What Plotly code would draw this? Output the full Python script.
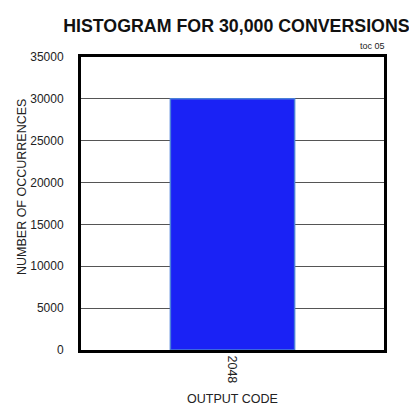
import plotly.graph_objects as go

categories = ["2048"]
counts = [30000]
y_ticks = [0, 5000, 10000, 15000, 20000, 25000, 30000, 35000]

fig = go.Figure()
fig.add_trace(go.Bar(
    x=categories, y=counts, width=0.41,
    marker=dict(color="#1a22f5", line=dict(color="#4a7fd8", width=1.5)),
))

font = "Liberation Sans, Arial, sans-serif"
fig.update_layout(
    width=409, height=407,
    margin=dict(l=81, r=25, t=57, b=57, autoexpand=False),
    paper_bgcolor="white", plot_bgcolor="white",
    showlegend=False,
    font=dict(family=font, size=12, color="#222"),
    title=dict(text="<b>HISTOGRAM FOR 30,000 CONVERSIONS</b>", x=0.578, xanchor="center",
               y=0.937, yanchor="middle", font=dict(size=17.8, color="#111", family=font)),
    annotations=[
        dict(text="toc 05", xref="paper", yref="paper", x=1.01, y=1.0,
             xanchor="right", yanchor="bottom", yshift=4, showarrow=False,
             font=dict(size=9, color="#222", family=font)),
        dict(text="NUMBER OF OCCURRENCES", xref="paper", yref="paper", x=-0.195, y=0.556,
             xanchor="center", yanchor="middle", textangle=-90, showarrow=False,
             font=dict(size=12.5, color="#222", family=font)),
        dict(text="OUTPUT CODE", xref="paper", yref="paper", x=0.5, y=-0.167,
             xanchor="center", yanchor="middle", showarrow=False,
             font=dict(size=12.5, color="#222", family=font)),
    ],
)
fig.update_xaxes(
    type="category", range=[-0.5, 0.5], tickangle=90,
    showline=True, linecolor="black", linewidth=3, mirror=True,
    ticks="", showgrid=False, automargin=False,
    tickfont=dict(size=12.5),
)
fig.update_yaxes(
    range=[0, 35000], tickvals=y_ticks, ticktext=[str(v) for v in y_ticks],
    showline=True, linecolor="black", linewidth=3, mirror=True,
    showgrid=True, gridcolor="#555", gridwidth=1, ticks="",
    ticklabelstandoff=12, automargin=False,
    zeroline=False,
)
fig.write_html("out.html", config={"displayModeBar": False},
               post_script="document.body.style.margin='0';")
